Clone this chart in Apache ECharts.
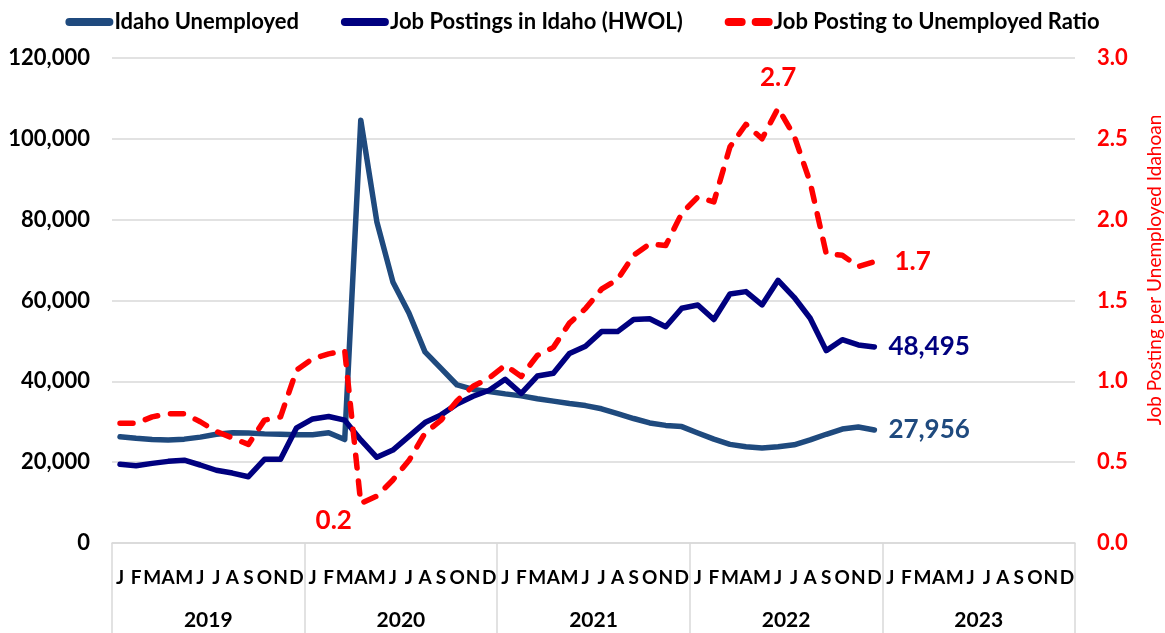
<!DOCTYPE html>
<html>
<head>
<meta charset="utf-8">
<script src="https://cdn.jsdelivr.net/npm/echarts@6/dist/echarts.min.js"></script>
<style>
html,body{margin:0;padding:0;background:#fff;}
#chart{width:1165px;height:633px;}
</style>
</head>
<body>
<div id="chart"></div>
<script>
const years = ['2019', '2020', '2021', '2022', '2023'];
const monthLetters = ['J','F','M','A','M','J','J','A','S','O','N','D'];
const leftTicks = [0, 20000, 40000, 60000, 80000, 100000, 120000];
const rightTicks = [0, 0.5, 1.0, 1.5, 2.0, 2.5, 3.0];

const unemployed = [
  26300, 25900, 25600, 25500, 25700, 26200, 26900, 27300, 27200, 27000, 26900, 26800,
  26800, 27300, 25600, 104600, 79500, 64600, 56900, 47300, 43200, 39100, 38000, 37500,
  36900, 36400, 35700, 35100, 34500, 34000, 33200, 32000, 30800, 29700, 29100, 28800,
  27200, 25700, 24400, 23800, 23500, 23800, 24300, 25500, 26900, 28200, 28700, 27956
];
const postings = [
  19500, 19100, 19700, 20200, 20500, 19300, 18000, 17300, 16400, 20700, 20700, 28500,
  30700, 31300, 30400, 25500, 21200, 23000, 26400, 29800, 31700, 34400, 36300, 37800,
  40500, 37000, 41300, 42000, 46900, 48700, 52300, 52300, 55300, 55500, 53500, 58100,
  58900, 55300, 61600, 62200, 58900, 65000, 60800, 55600, 47600, 50300, 49000, 48495
];
const ratio = [
  0.74, 0.74, 0.78, 0.80, 0.80, 0.75, 0.69, 0.65, 0.61, 0.76, 0.78, 1.07,
  1.14, 1.17, 1.19, 0.245, 0.29, 0.39, 0.51, 0.68, 0.76, 0.88, 0.97, 1.02,
  1.10, 1.03, 1.16, 1.21, 1.36, 1.45, 1.57, 1.63, 1.78, 1.85, 1.84, 2.04,
  2.14, 2.11, 2.45, 2.59, 2.50, 2.69, 2.52, 2.23, 1.79, 1.78, 1.71, 1.74
];

const months = [];
years.forEach(y => monthLetters.forEach((m, i) => months.push(y + '-' + (i + 1))));

const FONT = 'Lato';
const C_UNEMP = '#1F4A7E';
const C_POST = '#00007F';
const C_RATIO = '#FF0000';

function fmtNum(v) { return Math.round(v).toLocaleString('en-US'); }

const lastIdx = unemployed.length - 1;
const bigLabel = { fontFamily: FONT, fontWeight: 'bold', fontSize: 26 };

const unempData = unemployed.map((v, i) => i === lastIdx ? {
  value: v,
  label: Object.assign({ show: true, position: 'right', distance: 14, formatter: p => fmtNum(p.value), color: C_UNEMP }, bigLabel)
} : v);

const postData = postings.map((v, i) => i === lastIdx ? {
  value: v,
  label: Object.assign({ show: true, position: 'right', distance: 14, formatter: p => fmtNum(p.value), color: C_POST }, bigLabel)
} : v);

const minIdx = ratio.indexOf(Math.min(...ratio));
const maxIdx = ratio.indexOf(Math.max(...ratio));
const ratioLabelStyle = Object.assign({ show: true, formatter: p => p.value.toFixed(1), color: C_RATIO }, bigLabel);
const ratioData = ratio.map((v, i) => {
  if (i === minIdx) return { value: v, label: Object.assign({}, ratioLabelStyle, { position: 'bottom', distance: 4, offset: [-27, 0] }) };
  if (i === maxIdx) return { value: v, label: Object.assign({}, ratioLabelStyle, { position: 'top', distance: 18 }) };
  if (i === lastIdx) return { value: v, label: Object.assign({}, ratioLabelStyle, { position: 'right', distance: 20 }) };
  return v;
});

const solidIcon = 'path://M4,0 H44 A4,4 0 0 1 44,8 H4 A4,4 0 0 1 4,0 Z';
const dashIcon = 'path://M4,0 H17 A4,4 0 0 1 17,8 H4 A4,4 0 0 1 4,0 Z M31,0 H44 A4,4 0 0 1 44,8 H31 A4,4 0 0 1 31,0 Z';

const chart = echarts.init(document.getElementById('chart'), null, { renderer: 'canvas' });
chart.setOption({
  animation: false,
  textStyle: { fontFamily: FONT },
  legend: {
    top: 6,
    left: 'center',
    itemWidth: 48,
    itemHeight: 8,
    itemGap: 42,
    textStyle: { fontFamily: FONT, fontWeight: 'bold', fontSize: 22, color: '#000', padding: [0, 0, 0, -4] },
    data: [
      { name: 'Idaho Unemployed', icon: solidIcon },
      { name: 'Job Postings in Idaho (HWOL)', icon: solidIcon },
      { name: 'Job Posting to Unemployed Ratio', icon: dashIcon }
    ]
  },
  grid: { left: 112, right: 90, top: 58, bottom: 90, containLabel: false },
  xAxis: [
    {
      type: 'category',
      data: months,
      boundaryGap: true,
      axisLine: { show: true, lineStyle: { color: '#D9D9D9', width: 1.5 } },
      axisTick: { show: false },
      axisLabel: {
        interval: 0, margin: 25,
        formatter: (v) => monthLetters[parseInt(v.split('-')[1], 10) - 1],
        fontFamily: FONT, fontWeight: 'bold', fontSize: 19, color: '#000'
      },
      splitLine: { show: false }
    },
    {
      type: 'category',
      data: years,
      position: 'bottom',
      boundaryGap: true,
      axisLine: { show: false },
      axisTick: { show: true, length: 90, interval: 0, lineStyle: { color: '#D9D9D9', width: 1.5 } },
      axisLabel: { interval: 0, margin: 67, fontFamily: FONT, fontWeight: 'bold', fontSize: 21, color: '#000' },
      splitLine: { show: false }
    }
  ],
  yAxis: [
    {
      type: 'value',
      min: leftTicks[0], max: leftTicks[leftTicks.length - 1], interval: leftTicks[1] - leftTicks[0],
      axisLine: { show: false },
      axisTick: { show: false },
      axisLabel: { formatter: v => fmtNum(v), margin: 22, fontFamily: FONT, fontWeight: 'bold', fontSize: 22, color: '#000' },
      splitLine: { show: true, lineStyle: { color: '#D9D9D9', width: 1.5 } }
    },
    {
      type: 'value',
      position: 'right',
      min: rightTicks[0], max: rightTicks[rightTicks.length - 1], interval: rightTicks[1] - rightTicks[0],
      axisLine: { show: false },
      axisTick: { show: false },
      axisLabel: { formatter: v => v.toFixed(1), margin: 22, fontFamily: FONT, fontWeight: 'bold', fontSize: 22, color: C_RATIO },
      splitLine: { show: false }
    }
  ],
  graphic: [{
    type: 'text',
    x: 1155, y: 270,
    rotation: Math.PI / 2,
    style: {
      text: 'Job Posting per Unemployed Idahoan',
      fill: C_RATIO, font: '19px Lato',
      textAlign: 'center', textVerticalAlign: 'middle'
    }
  }],
  series: [
    {
      name: 'Idaho Unemployed', type: 'line', xAxisIndex: 0, yAxisIndex: 0,
      data: unempData, symbol: 'circle', symbolSize: 0, showSymbol: true, z: 3,
      lineStyle: { color: C_UNEMP, width: 5.5, cap: 'round', join: 'round' },
      itemStyle: { color: C_UNEMP }
    },
    {
      name: 'Job Postings in Idaho (HWOL)', type: 'line', xAxisIndex: 0, yAxisIndex: 0,
      data: postData, symbol: 'circle', symbolSize: 0, showSymbol: true, z: 4,
      lineStyle: { color: C_POST, width: 5.5, cap: 'round', join: 'round' },
      itemStyle: { color: C_POST }
    },
    {
      name: 'Job Posting to Unemployed Ratio', type: 'line', xAxisIndex: 0, yAxisIndex: 1,
      data: ratioData, symbol: 'circle', symbolSize: 0, showSymbol: true, z: 5,
      lineStyle: { color: C_RATIO, width: 5.5, type: [13, 13], cap: 'round', join: 'round' },
      itemStyle: { color: C_RATIO }
    }
  ]
});
</script>
</body>
</html>
